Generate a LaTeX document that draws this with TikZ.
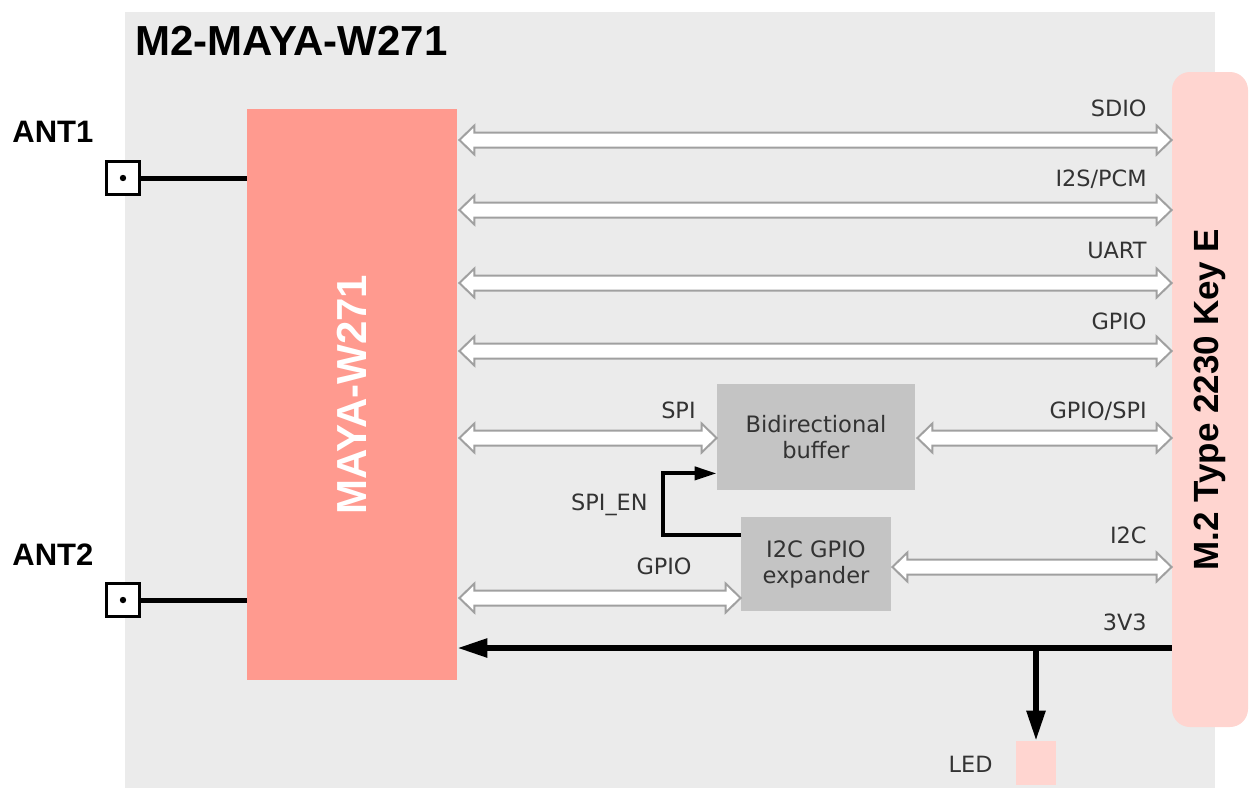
\documentclass[tikz,border=0pt]{standalone}
\usepackage{fontspec}
\setmainfont{Liberation Sans}
\newfontfamily\lblfont{DejaVu Sans}
\usetikzlibrary{arrows.meta,calc}
\definecolor{bg}{HTML}{EBEBEB}
\definecolor{mayac}{HTML}{FF9A8F}
\definecolor{conn}{HTML}{FFD5D0}
\definecolor{blk}{HTML}{C4C4C4}
\definecolor{txt}{HTML}{333333}
\definecolor{arrgray}{HTML}{A0A0A0}
\begin{document}
\begin{tikzpicture}[x=0.5pt,y=-0.5pt,
  dbl/.style={draw=arrgray, line width=1pt, fill=white, line join=miter,
    to path={-- ($(\tikztostart)+(15,14.5)$) -- ($(\tikztostart)+(15,7.5)$)
             -- ($(\tikztotarget)+(-15,7.5)$) -- ($(\tikztotarget)+(-15,14.5)$)
             -- (\tikztotarget) -- ($(\tikztotarget)+(-15,-14.5)$)
             -- ($(\tikztotarget)+(-15,-7.5)$) -- ($(\tikztostart)+(15,-7.5)$)
             -- ($(\tikztostart)+(15,-14.5)$) -- cycle}},
  lbl/.style={text=txt, font=\lblfont\fontsize{11.2}{13}\selectfont, inner sep=0pt},
  blkbox/.style={fill=blk, draw=none, text=txt, align=center, inner sep=0pt,
    font=\lblfont\fontsize{11.3}{13}\selectfont},
  antbox/.style={draw=black, line width=1.1pt, fill=white, minimum size=16.5pt, inner sep=0pt},
  antline/.style={line width=2.5pt},
  pwr/.style={line width=2.8pt, -{Triangle[length=15pt,width=9pt]}},
  ctl/.style={line width=2pt, -{Triangle[length=11pt,width=6.5pt]}}]
\useasboundingbox (0,0) rectangle (1249,788);
% background
\fill[bg] (125,12) rectangle (1215,788);
\node[anchor=base west, inner sep=0pt, font=\bfseries\fontsize{21}{23}\selectfont] (title) at (135,55) {M2-MAYA-W271};
% main blocks
\node[fill=mayac, minimum width=105pt, minimum height=285.5pt, inner sep=0pt] (maya) at (352,394.5) {};
\node[rotate=90, text=white, font=\bfseries\fontsize{21}{23}\selectfont] at (maya.center) {MAYA-W271};
\node[fill=conn, rounded corners=9pt, minimum width=38pt, minimum height=327.5pt, inner sep=0pt] (m2) at (1210,399.5) {};
\node[rotate=90, font=\bfseries\fontsize{17.5}{19}\selectfont] at (m2.center) {M.2 Type 2230 Key E};
\node[blkbox, minimum width=99pt, minimum height=53pt] (buf) at (816,437) {Bidirectional\\buffer};
\node[blkbox, minimum width=75pt, minimum height=47pt] (exp) at (816,564) {I2C GPIO\\expander};
\node[fill=conn, minimum width=20pt, minimum height=22pt, inner sep=0pt] (led) at (1036,763) {};
\node[lbl, anchor=base east] (ledl) at (993,772) {LED};
% antennas
\node[anchor=base west, inner sep=0pt, font=\bfseries\fontsize{15.5}{17}\selectfont] (ant1l) at (12,142) {ANT1};
\node[anchor=base west, inner sep=0pt, font=\bfseries\fontsize{15.5}{17}\selectfont] (ant2l) at (12,565) {ANT2};
\node[antbox] (a1) at (123,178) {};
\node[antbox] (a2) at (123,600) {};
\fill (a1.center) circle (1.6pt);
\fill (a2.center) circle (1.6pt);
\draw[antline] (a1.east) -- (maya.west |- a1);
\draw[antline] (a2.east) -- (maya.west |- a2);
% row coordinates
\coordinate (ySDIO) at (0,140);
\coordinate (yI2S) at (0,210);
\coordinate (yUART) at (0,283);
\coordinate (yGPIO) at (0,351);
\coordinate (ySPI) at (0,438);
\coordinate (yI2C) at (0,567);
\coordinate (yGP2) at (0,598);
\coordinate (y3) at (0,648);
% double arrows
\draw[dbl] ($(maya.east |- ySDIO)+(2,0)$) to (m2.west |- ySDIO);
\draw[dbl] ($(maya.east |- yI2S)+(2,0)$) to (m2.west |- yI2S);
\draw[dbl] ($(maya.east |- yUART)+(2,0)$) to (m2.west |- yUART);
\draw[dbl] ($(maya.east |- yGPIO)+(2,0)$) to (m2.west |- yGPIO);
\draw[dbl] ($(maya.east |- ySPI)+(2,0)$) to (buf.west |- ySPI);
\draw[dbl] ($(buf.east |- ySPI)+(2,0)$) to (m2.west |- ySPI);
\draw[dbl] ($(exp.east |- yI2C)+(1,0)$) to (m2.west |- yI2C);
\draw[dbl] ($(maya.east |- yGP2)+(2,0)$) to (exp.west |- yGP2);
% labels
\node[lbl, anchor=base east] (lsdio) at (1147,116) {SDIO};
\node[lbl, anchor=base east] (li2s) at (1147,186) {I2S/PCM};
\node[lbl, anchor=base east] (luart) at (1147,258) {UART};
\node[lbl, anchor=base east] (lgpio) at (1147,329) {GPIO};
\node[lbl, anchor=base east] (lgpspi) at (1147,418) {GPIO/SPI};
\node[lbl, anchor=base east] (lspi) at (696,418) {SPI};
\node[lbl, anchor=base east] (li2c) at (1147,543) {I2C};
\node[lbl, anchor=base east] (lgp2) at (692,574) {GPIO};
\node[lbl, anchor=base east] (lspien) at (648,510) {SPI\_EN};
\node[lbl, anchor=base east] (l3v3) at (1147,630) {3V3};
% SPI_EN control
\draw[ctl, line join=miter] ($(exp.north west)+(0,18)$) -- ++(-78,0) |- ($(buf.south west)+(0,-17)$);
% power
\draw[pwr] (m2.west |- y3) -- (maya.east |- y3);
\coordinate (br) at (led.north |- y3);
\draw[pwr] ($(br)+(0,-1)$) -- (led.north);
\end{tikzpicture}
\end{document}
